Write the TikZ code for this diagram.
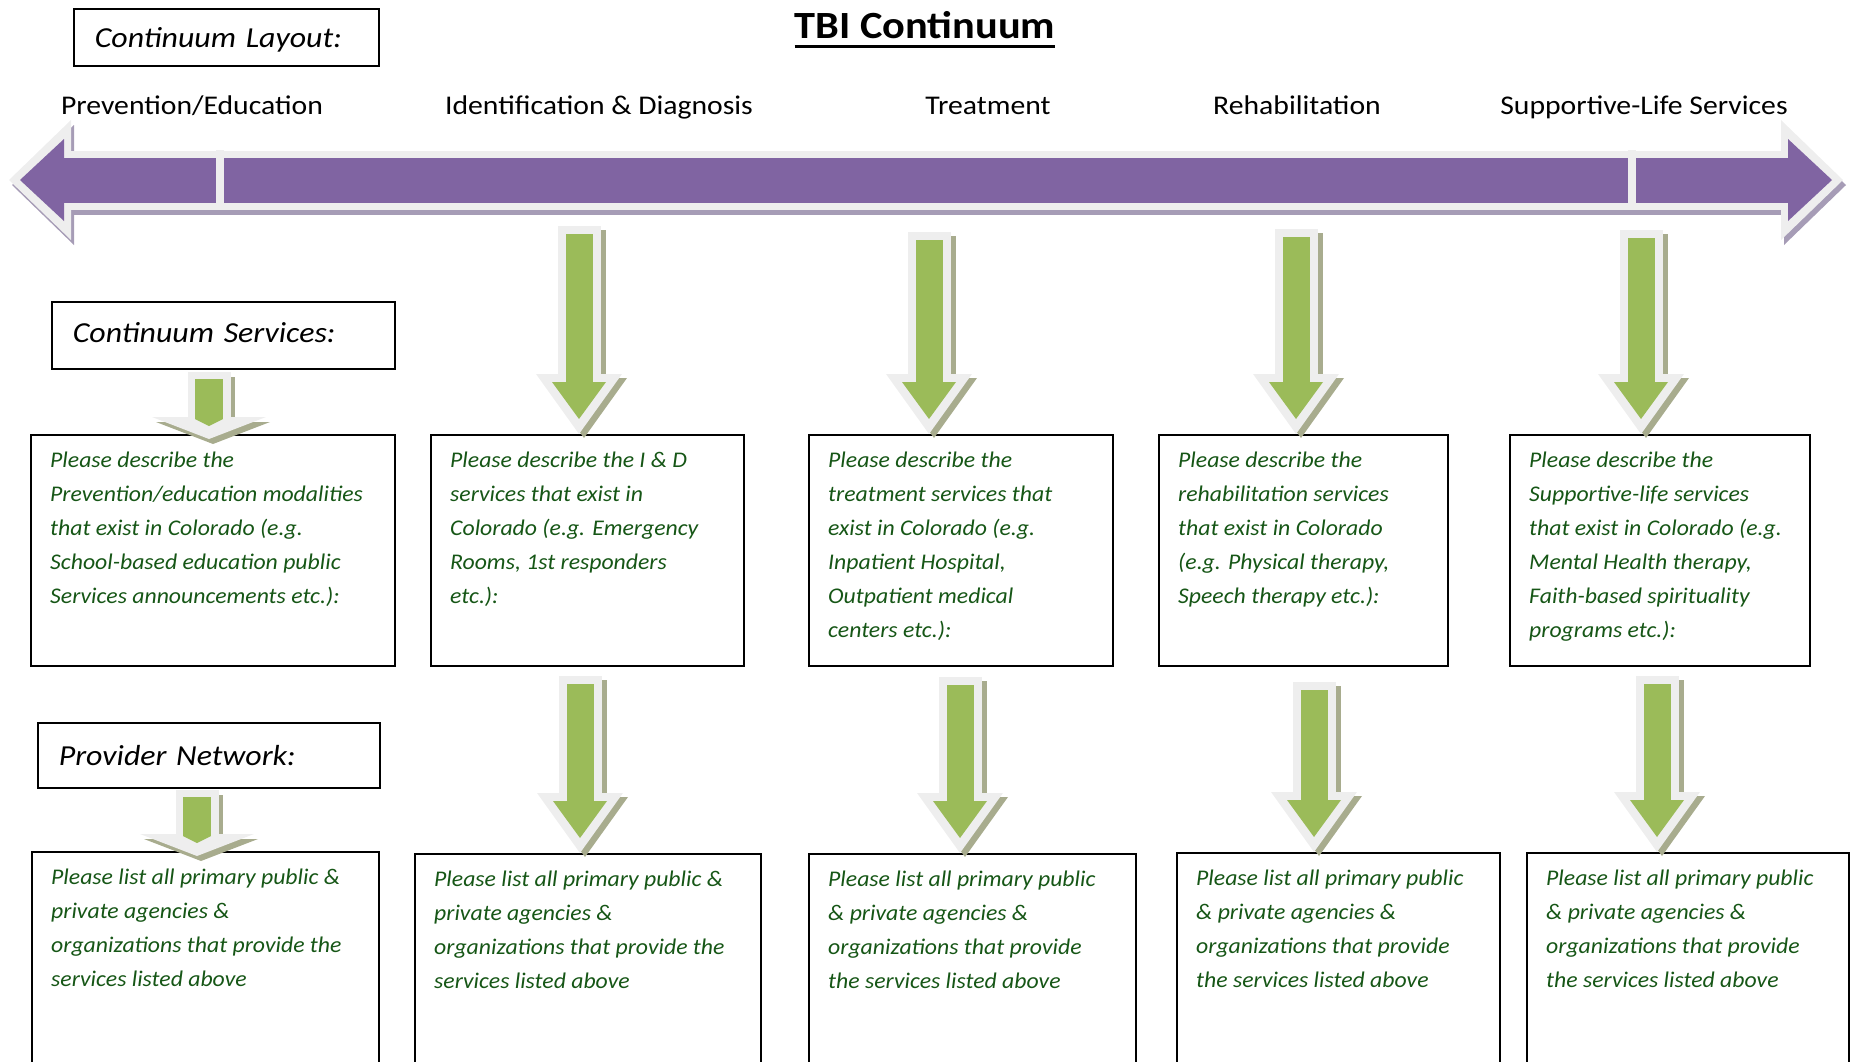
\documentclass[tikz,border=0pt]{standalone}
\usepackage{fontspec}
\setmainfont{Carlito}[FakeStretch=1.1]
\newfontfamily\boxfont{Carlito}[FakeStretch=1.06]
\usetikzlibrary{arrows.meta}
\definecolor{tbipurple}{RGB}{128,100,162}
\definecolor{tbigreen}{RGB}{155,187,89}
\definecolor{txtgreen}{RGB}{22,86,22}
\definecolor{rimgray}{RGB}{238,238,238}
\definecolor{shadegreen}{RGB}{168,172,142}
\definecolor{shadepurple}{RGB}{166,156,182}
\tikzset{
  hdr/.style={draw,line width=1.6pt,anchor=north west,align=left,inner xsep=21pt,inner ysep=0pt,font=\fontsize{29}{34}\selectfont\itshape},
  stage/.style={anchor=base,font=\fontsize{27}{32}\selectfont},
  svc/.style={draw,line width=1.6pt,anchor=north west,inner sep=0pt},
  svctxt/.style={anchor=north west,align=left,inner xsep=20pt,inner ysep=17.5pt,text=txtgreen,font=\boxfont\fontsize{22.4}{34}\selectfont\itshape},
  barshade/.style={line width=59pt,draw=shadepurple,{Triangle[length=62pt,width=120pt,line width=0pt]}-{Triangle[length=62pt,width=120pt,line width=0pt]},transform canvas={xshift=3pt,yshift=-5pt}},
  barrim/.style={line width=59pt,draw=rimgray,{Triangle[length=62pt,width=120pt,line width=0pt]}-{Triangle[length=62pt,width=120pt,line width=0pt]}},
  barfill/.style={line width=45pt,draw=tbipurple,{Triangle[length=44pt,width=82pt,line width=0pt]}-{Triangle[length=44pt,width=82pt,line width=0pt]},shorten <=11pt,shorten >=11pt},
  bigshade/.style={line width=43pt,draw=shadegreen,-{Triangle[length=60pt,width=86pt,line width=0pt]},transform canvas={xshift=5pt,yshift=-4pt}},
  bigrim/.style={line width=43pt,draw=rimgray,-{Triangle[length=60pt,width=86pt,line width=0pt]}},
  bigfill/.style={line width=27pt,draw=tbigreen,-{Triangle[length=37pt,width=54pt,line width=0pt]},shorten <=8pt,shorten >=15pt},
  smallshade/.style={line width=43pt,draw=shadegreen,-{Triangle[length=22pt,width=114pt,line width=0pt]},shorten >=-5pt,transform canvas={xshift=4pt,yshift=-5pt}},
  smallrim/.style={line width=43pt,draw=rimgray,-{Triangle[length=22pt,width=114pt,line width=0pt]},shorten >=-5pt},
  smallfill/.style={line width=28pt,draw=tbigreen,-{Triangle[length=7pt,width=28pt,line width=0pt]},shorten <=7pt,shorten >=8pt}
}
\begin{document}
\begin{tikzpicture}[x=1pt,y=-1pt]
\useasboundingbox (0,0) rectangle (1853,1061);
\clip (0,0) rectangle (1853,1061);
% heading
\node[hdr,minimum height=57pt,text width=263pt,text height=26pt,text depth=6pt] (layout) at (73,8) {Continuum Layout:};
\node[anchor=base,inner sep=0pt,font=\fontsize{38.5}{44}\selectfont\bfseries] (title) at (925,38) {TBI Continuum};
\draw[line width=3pt] ([yshift=-8pt]title.base west) -- ([yshift=-8pt]title.base east);
% stages
\node[stage] (st1) at (192,114) {Prevention/Education};
\node[stage] (st2) at (599,114) {Identification \& Diagnosis};
\node[stage] (st3) at (988,114) {Treatment};
\node[stage] (st4) at (1297,114) {Rehabilitation};
\node[stage] (st5) at (1644,114) {Supportive-Life Services};
% continuum bar
\coordinate (barL) at (9,180); \coordinate (barR) at (1843,180);
\draw[barshade] (barL) -- (barR);
\draw[barrim] (barL) -- (barR);
\draw[barfill] (barL) -- (barR);
\fill[rimgray] (216,150) rectangle (224,209);
\fill[rimgray] (1628,150) rectangle (1636,209);
% services row
\node[hdr,minimum height=67pt,text width=301pt,text height=18pt,text depth=4pt] (services) at (51,301) {Continuum Services:};
\node[svc,minimum width=364pt,minimum height=231pt] (s1) at (30,434) {};
\node[svc,minimum width=313pt,minimum height=231pt] (s2) at (430,434) {};
\node[svc,minimum width=304pt,minimum height=231pt] (s3) at (808,434) {};
\node[svc,minimum width=289pt,minimum height=231pt] (s4) at (1158,434) {};
\node[svc,minimum width=300pt,minimum height=231pt] (s5) at (1509,434) {};
\node[svctxt] (s1t) at (s1.north west) {Please describe the\\Prevention/education modalities\\that exist in Colorado (e.g.\\School-based education public\\Services announcements etc.):};
\node[svctxt] (s2t) at (s2.north west) {Please describe the I \& D\\services that exist in\\Colorado (e.g. Emergency\\Rooms, 1st responders\\etc.):};
\node[svctxt] (s3t) at (s3.north west) {Please describe the\\treatment services that\\exist in Colorado (e.g.\\Inpatient Hospital,\\Outpatient medical\\centers etc.):};
\node[svctxt] (s4t) at (s4.north west) {Please describe the\\rehabilitation services\\that exist in Colorado\\(e.g. Physical therapy,\\Speech therapy etc.):};
\node[svctxt] (s5t) at (s5.north west) {Please describe the\\Supportive-life services\\that exist in Colorado (e.g.\\Mental Health therapy,\\Faith-based spirituality\\programs etc.):};
% provider row
\node[hdr,minimum height=65pt,text width=300pt] (network) at (37,722) {Provider Network:};
\node[svc,minimum width=347pt,minimum height=240pt] (p1) at (31,851) {};
\node[svc,minimum width=346pt,minimum height=240pt] (p2) at (414,853) {};
\node[svc,minimum width=327pt,minimum height=240pt] (p3) at (808,853) {};
\node[svc,minimum width=323pt,minimum height=240pt] (p4) at (1176,852) {};
\node[svc,minimum width=322pt,minimum height=240pt] (p5) at (1526,852) {};
\node[svctxt] (p1t) at (p1.north west) {Please list all primary public \&\\private agencies \&\\organizations that provide the\\services listed above};
\node[svctxt] (p2t) at (p2.north west) {Please list all primary public \&\\private agencies \&\\organizations that provide the\\services listed above};
\node[svctxt] (p3t) at (p3.north west) {Please list all primary public\\\& private agencies \&\\organizations that provide\\the services listed above};
\node[svctxt] (p4t) at (p4.north west) {Please list all primary public\\\& private agencies \&\\organizations that provide\\the services listed above};
\node[svctxt] (p5t) at (p5.north west) {Please list all primary public\\\& private agencies \&\\organizations that provide\\the services listed above};
% green arrows
\coordinate (a1) at (209,372); \coordinate (b1) at (197,790);
\coordinate (a2) at (579,226); \coordinate (a3) at (929,232); \coordinate (a4) at (1296,229); \coordinate (a5) at (1641,230);
\coordinate (b2) at (580,676); \coordinate (b3) at (960,677); \coordinate (b4) at (1314,682); \coordinate (b5) at (1657,676);
\draw[smallshade] (a1) -- (a1 |- s1.north); \draw[smallrim] (a1) -- (a1 |- s1.north); \draw[smallfill] (a1) -- (a1 |- s1.north);
\draw[smallshade] (b1) -- (b1 |- p1.north); \draw[smallrim] (b1) -- (b1 |- p1.north); \draw[smallfill] (b1) -- (b1 |- p1.north);
\draw[bigshade] (a2) -- (a2 |- s2.north); \draw[bigrim] (a2) -- (a2 |- s2.north); \draw[bigfill] (a2) -- (a2 |- s2.north);
\draw[bigshade] (a3) -- (a3 |- s3.north); \draw[bigrim] (a3) -- (a3 |- s3.north); \draw[bigfill] (a3) -- (a3 |- s3.north);
\draw[bigshade] (a4) -- (a4 |- s4.north); \draw[bigrim] (a4) -- (a4 |- s4.north); \draw[bigfill] (a4) -- (a4 |- s4.north);
\draw[bigshade] (a5) -- (a5 |- s5.north); \draw[bigrim] (a5) -- (a5 |- s5.north); \draw[bigfill] (a5) -- (a5 |- s5.north);
\draw[bigshade] (b2) -- (b2 |- p2.north); \draw[bigrim] (b2) -- (b2 |- p2.north); \draw[bigfill] (b2) -- (b2 |- p2.north);
\draw[bigshade] (b3) -- (b3 |- p3.north); \draw[bigrim] (b3) -- (b3 |- p3.north); \draw[bigfill] (b3) -- (b3 |- p3.north);
\draw[bigshade] (b4) -- (b4 |- p4.north); \draw[bigrim] (b4) -- (b4 |- p4.north); \draw[bigfill] (b4) -- (b4 |- p4.north);
\draw[bigshade] (b5) -- (b5 |- p5.north); \draw[bigrim] (b5) -- (b5 |- p5.north); \draw[bigfill] (b5) -- (b5 |- p5.north);
\end{tikzpicture}
\end{document}
